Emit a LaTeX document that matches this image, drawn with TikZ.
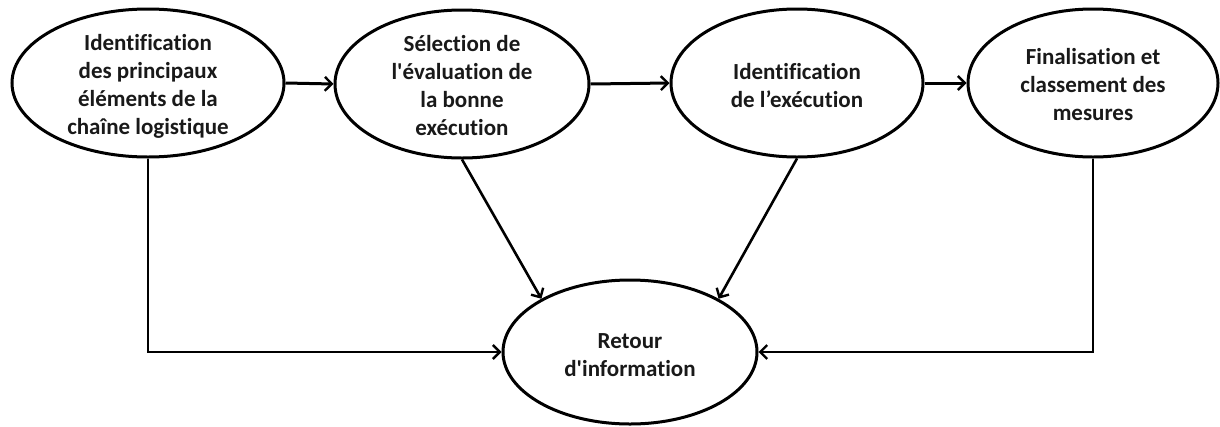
\documentclass[tikz,border=0pt]{standalone}
\usepackage{fontspec}
\setmainfont{Carlito}[Ligatures={NoCommon}]
\usetikzlibrary{shapes.geometric,arrows.meta}
\begin{document}
\begin{tikzpicture}[x=1pt,y=-1pt,
  oval/.style={draw=black,line width=3pt,ellipse,inner sep=0pt,fill=white},
  txt/.style={align=center,font=\fontsize{23}{28}\selectfont\bfseries,inner sep=0pt,text=black!90},
  flow/.style={line width=3pt,-{Straight Barb[length=7pt,width=14pt,line width=2.4pt]}},
  link/.style={line width=2.6pt,-{Straight Barb[length=7pt,width=14pt,line width=2.4pt]}}]
\useasboundingbox (0,0) rectangle (1220,426);
\node[oval,minimum width=272pt,minimum height=148pt] (e1) at (148,83) {};
\node[oval,minimum width=254pt,minimum height=148pt] (e2) at (462,84) {};
\node[oval,minimum width=252pt,minimum height=148pt] (e3) at (797,83) {};
\node[oval,minimum width=250pt,minimum height=148pt] (e4) at (1093,83) {};
\node[oval,minimum width=254pt,minimum height=144pt] (r) at (630,352) {};
\node[txt] (t1) at (148,86) {Identification\\des principaux\\éléments de la\\chaîne logistique};
\node[txt] (t2) at (462,86) {Sélection de\\l\textquotesingle évaluation de\\la bonne\\exécution};
\node[txt] (t3) at (797,86) {Identification\\de l’exécution};
\node[txt] (t4) at (1093,85) {Finalisation et\\classement des\\mesures};
\node[txt] (t5) at (630,355) {Retour\\d\textquotesingle information};
\draw[flow] (e1.east) -- (e2.west);
\draw[flow] (e2.east) -- (e3.west);
\draw[flow] (e3.east) -- (e4.west);
\draw[link] (e1.south) |- (r.west);
\draw[link] (e4.south) |- (r.east);
\draw[link] (e2.south) -- (r.149);
\draw[link] (e3.south) -- (r.31);
\end{tikzpicture}
\end{document}
